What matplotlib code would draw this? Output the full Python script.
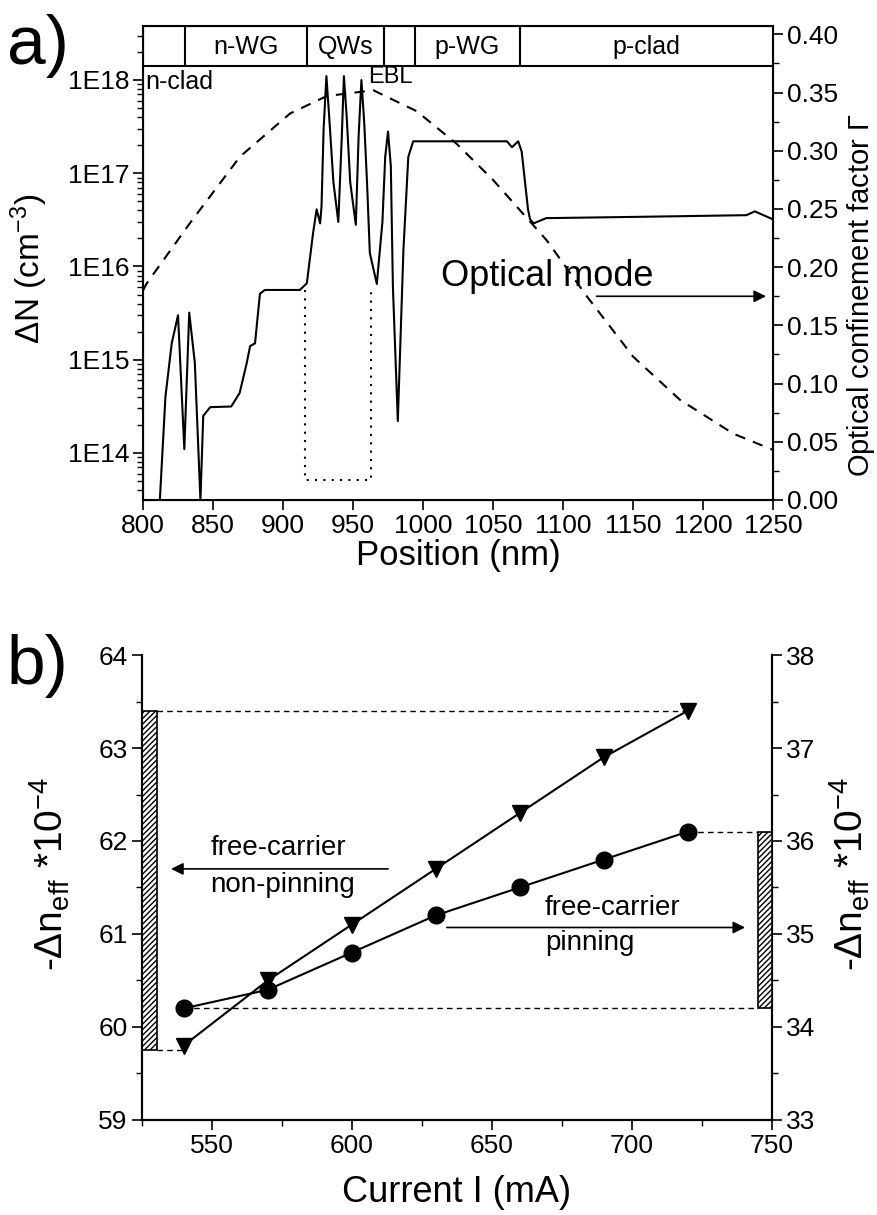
import matplotlib
matplotlib.use("Agg")
import matplotlib.pyplot as plt
from matplotlib.ticker import FixedLocator, MultipleLocator, FuncFormatter, NullFormatter, LogLocator
import numpy as np

plt.rcParams['font.family'] = ['Liberation Sans', 'DejaVu Sans']
plt.rcParams['mathtext.fontset'] = 'custom'
plt.rcParams['mathtext.rm'] = 'Liberation Sans'
plt.rcParams['mathtext.it'] = 'Liberation Sans'
plt.rcParams['hatch.linewidth'] = 1.0

# ---- panel a data: carrier density change vs position
pos_nm = [812, 816, 820.5, 825, 829.5, 833, 837, 841, 843, 848, 863, 869, 874, 876.5,
          880, 883.5, 887, 912, 917, 921.5, 924, 926.5, 927.5, 929, 931, 933, 936, 939.5,
          942, 943.5, 945.5, 948, 952, 954, 956, 958, 960, 962, 967, 971, 973, 975, 977,
          978.5, 982, 986, 989.5, 993, 1040, 1060, 1063.5, 1068, 1070.5, 1075, 1076.5,
          1079, 1088, 1150, 1231, 1237, 1250]
dN = [3.1e13, 4e14, 1.5e15, 3.0e15, 1.1e14, 3.2e15, 9.3e14, 3.1e13, 2.5e14, 3.1e14, 3.15e14,
      4.4e14, 9.1e14, 1.4e15, 1.5e15, 5.1e15, 5.6e15, 5.6e15, 6.6e15, 2.3e16, 4.1e16,
      2.9e16, 4.4e16, 3e17, 1.1e18, 4e17, 8e16, 3.0e16, 2.5e17, 1.1e18, 4e17, 8e16, 2.8e16,
      2.5e17, 1.0e18, 3.5e17, 8e16, 1.4e16, 6.5e15, 3e16, 1.5e17, 2.8e17, 1.2e17,
      6e15, 2.2e14, 1.5e16, 1.5e17, 2.2e17, 2.2e17, 2.2e17,
      1.9e17, 2.2e17, 1.7e17, 4.1e16, 3.2e16, 2.9e16, 3.3e16, 3.4e16, 3.55e16, 3.9e16, 3.2e16]

# optical mode (confinement factor, right axis)
mode_nm = [800, 802.6, 833.6, 869.3, 905, 931.2, 964.5, 995.5, 1024, 1050, 1088.4,
           1117, 1150.2, 1183.6, 1221.6, 1250]
mode_val = [0.180, 0.186, 0.238, 0.295, 0.332, 0.347, 0.352, 0.334, 0.306, 0.275, 0.223,
            0.175, 0.123, 0.086, 0.057, 0.043]

layer_edges = [830, 917, 972, 994, 1069]
layer_names = ["n-WG", "QWs", "p-WG", "p-clad"]
layer_centers = [873.5, 944.5, 1031.5, 1159.5]

qw_box_x = [916, 916, 963, 963]
qw_box_y = [5.6e15, 5.1e13, 5.1e13, 6.0e15]

# ---- panel b data
current = [540, 570, 600, 630, 660, 690, 720]
dn_nonpin = [59.8, 60.5, 61.1, 61.7, 62.3, 62.9, 63.4]   # left axis
dn_pin = [34.2, 34.4, 34.8, 35.2, 35.5, 35.8, 36.1]      # right axis

TICK = 19
NEFF = r"-$\Delta$n$_{\mathregular{eff}}$ *10$^{\mathregular{-4}}$"

fig = plt.figure(figsize=(8.78, 12.15), dpi=100)

# ================= panel a
ax = fig.add_axes([0.1629, 0.5885, 0.7175, 0.3901])
ax.set_yscale('log')
ax.set_xlim(800, 1250)
ax.set_ylim(10**13.496, 10**18.579)
ax.plot(pos_nm, dN, color='black', lw=1.5, zorder=3)
ax.plot(qw_box_x, qw_box_y, color='black', lw=1.5, linestyle=(0, (1, 3)))

ax.yaxis.set_major_locator(FixedLocator([1e14, 1e15, 1e16, 1e17, 1e18]))
ax.yaxis.set_major_formatter(FuncFormatter(lambda v, p: "1E%d" % round(np.log10(v))))
ax.yaxis.set_minor_locator(LogLocator(base=10, subs=np.arange(2, 10)))
ax.yaxis.set_minor_formatter(NullFormatter())
ax.xaxis.set_major_locator(MultipleLocator(50))
ax.tick_params(which='major', direction='out', length=7, width=1.2, labelsize=TICK, pad=3)
ax.tick_params(which='minor', direction='out', length=4, width=1.0)
ax.set_xlabel("Position (nm)", fontsize=25, labelpad=1)
ax.set_ylabel(r"$\Delta$N (cm$^{\mathregular{-3}}$)", fontsize=24)
ax.yaxis.set_label_coords(-0.148, 0.487)
for s in ax.spines.values():
    s.set_linewidth(1.5)

# layer strip on top
strip_y = 0.9162
trans = ax.get_xaxis_transform()
ax.plot([800, 1250], [strip_y, strip_y], color='black', lw=1.5, transform=trans, clip_on=False)
ax.vlines(layer_edges, strip_y, 1, colors='black', lw=1.5, transform=trans)
for name, xc in zip(layer_names, layer_centers):
    ax.text(xc, 0.956, name, transform=trans, ha='center', va='center', fontsize=18)
ax.text(802, 0.882, "n-clad", transform=trans, ha='left', va='center', fontsize=18)
ax.text(977, 0.892, "EBL", transform=trans, ha='center', va='center', fontsize=17)

ax2 = ax.twinx()
ax2.set_ylim(0, 0.4072)
ax2.plot(mode_nm, mode_val, color='black', lw=1.5, linestyle=(0, (5, 4)))
ax2.yaxis.set_major_locator(MultipleLocator(0.05))
ax2.yaxis.set_minor_locator(MultipleLocator(0.025))
ax2.yaxis.set_major_formatter(FuncFormatter(lambda v, p: "%.2f" % v))
ax2.tick_params(which='major', direction='out', length=7, width=1.2, labelsize=TICK, pad=3)
ax2.tick_params(which='minor', direction='out', length=4, width=1.0)
ax2.set_ylabel(r"Optical confinement factor $\Gamma$", fontsize=21, rotation=90)
ax2.yaxis.set_label_coords(1.114, 0.433)
ax2.text(1013, 0.192, "Optical mode", fontsize=26, ha='left', va='center')
ax2.annotate("", xy=(1247, 0.175), xytext=(1122, 0.175),
             arrowprops=dict(arrowstyle='-|>', color='black', lw=1.2, mutation_scale=18))

fig.text(0.008, 0.962, "a)", fontsize=50, va='center', ha='left')

# ================= panel b
bx = fig.add_axes([0.1614, 0.0782, 0.7175, 0.3827])
bx.set_xlim(525, 750)
bx.set_ylim(59, 64)
bx.spines['top'].set_visible(False)
bx.plot(current, dn_nonpin, color='black', lw=1.5, marker='v', markersize=12, zorder=4)
bx.bar(525, dn_nonpin[-1] - 59.75, bottom=59.75, width=5.5, align='edge',
       facecolor='white', edgecolor='black', hatch='//////', lw=1.2, zorder=3)
bx.plot([530.5, current[-1]], [dn_nonpin[-1], dn_nonpin[-1]], color='black', lw=1, ls=(0, (4, 3)))
bx.plot([530.5, current[0]], [59.75, 59.75], color='black', lw=1, ls=(0, (4, 3)))
bx.xaxis.set_major_locator(MultipleLocator(50))
bx.xaxis.set_minor_locator(MultipleLocator(25))
bx.yaxis.set_major_locator(MultipleLocator(1))
bx.yaxis.set_minor_locator(MultipleLocator(0.5))
bx.tick_params(which='major', direction='out', length=7, width=1.2, labelsize=TICK, pad=3)
bx.tick_params(which='minor', direction='out', length=4, width=1.0)
bx.set_xlabel("Current I (mA)", fontsize=26, labelpad=12)
bx.set_ylabel(NEFF, fontsize=28)
bx.yaxis.set_label_coords(-0.11, 0.53)
for s in bx.spines.values():
    s.set_linewidth(1.5)

bx2 = bx.twinx()
bx2.set_ylim(33, 38)
bx2.spines['top'].set_visible(False)
bx2.plot(current, dn_pin, color='black', lw=1.5, marker='o', markersize=12, zorder=4)
bx2.bar(745, dn_pin[-1] - dn_pin[0], bottom=dn_pin[0], width=5, align='edge',
        facecolor='white', edgecolor='black', hatch='//////', lw=1.2, zorder=3)
bx2.plot([current[-1], 745], [dn_pin[-1], dn_pin[-1]], color='black', lw=1, ls=(0, (4, 3)))
bx2.plot([current[0], 745], [dn_pin[0], dn_pin[0]], color='black', lw=1, ls=(0, (4, 3)))
bx2.yaxis.set_major_locator(MultipleLocator(1))
bx2.yaxis.set_minor_locator(MultipleLocator(0.5))
bx2.tick_params(which='major', direction='out', length=7, width=1.2, labelsize=TICK, pad=3)
bx2.tick_params(which='minor', direction='out', length=4, width=1.0)
bx2.set_ylabel(NEFF, fontsize=28, rotation=90)
bx2.yaxis.set_label_coords(1.09, 0.53)
for s in bx2.spines.values():
    s.set_linewidth(1.5)

bx.annotate("", xy=(534.5, 61.7), xytext=(614, 61.7),
            arrowprops=dict(arrowstyle='-|>', color='black', lw=1.2, mutation_scale=18))
bx.text(549.5, 61.92, "free-carrier", fontsize=20, ha='left', va='center')
bx.text(549.5, 61.53, "non-pinning", fontsize=20, ha='left', va='center')
bx.annotate("", xy=(741.5, 61.07), xytext=(633, 61.07),
            arrowprops=dict(arrowstyle='-|>', color='black', lw=1.2, mutation_scale=18))
bx.text(669, 61.28, "free-carrier", fontsize=20, ha='left', va='center')
bx.text(669, 60.9, "pinning", fontsize=20, ha='left', va='center')

fig.text(0.008, 0.452, "b)", fontsize=50, va='center', ha='left')

fig.savefig("out.png", dpi=100)
